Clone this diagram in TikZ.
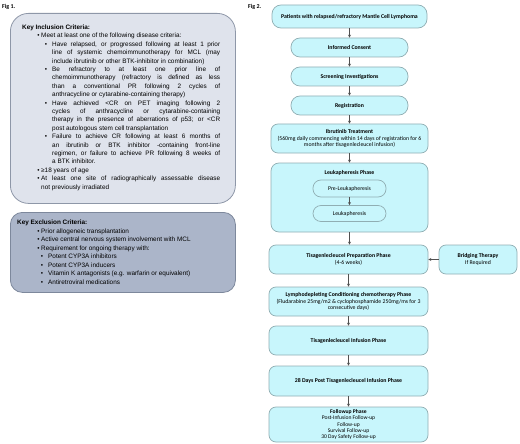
\documentclass[tikz,border=0pt]{standalone}
\usepackage{fontspec}
\setmainfont{Liberation Sans}
\newfontfamily\calfont{Carlito}
\usetikzlibrary{arrows.meta}
\definecolor{incfill}{HTML}{DFE3EC}
\definecolor{incdraw}{HTML}{8E97A8}
\definecolor{excfill}{HTML}{ABB5C9}
\definecolor{excdraw}{HTML}{7D889C}
\definecolor{boxfill}{HTML}{C8F6FC}
\definecolor{boxdraw}{HTML}{90AEB3}
\definecolor{arr}{HTML}{505050}
\tolerance=9999
\emergencystretch=5pt
\begin{document}
\begin{tikzpicture}[x=1pt,y=-1pt,
  fbox/.style={draw=boxdraw, fill=boxfill, line width=0.7pt, rounded corners=7pt, inner sep=0pt, align=center, font=\calfont\fontsize{5.8}{6.9}\selectfont},
  pill/.style={fbox, rounded corners=8pt},
  conn/.style={draw=arr, line width=0.6pt, -{Stealth[length=3pt,width=3pt]}},
  figlab/.style={anchor=base west, inner sep=0pt, font=\calfont\bfseries\fontsize{6}{6}\selectfont},
  crit/.style={anchor=base west, inner sep=0pt, align=justify}
]
\useasboundingbox (0,0) rectangle (520,444);

% ---------- Fig 1 ----------
\node[figlab] (fig1) at (2,8.5) {Fig 1.};
\node[figlab] (fig2) at (248,8.5) {Fig 2.};

\node[draw=incdraw, fill=incfill, line width=0.8pt, rounded corners=18pt, anchor=north west,
      minimum width=225pt, minimum height=190pt, inner sep=0pt] (inc) at (10,13) {};
\node[crit, text width=198pt, font=\fontsize{6.4}{8.4}\selectfont] (inctext) at (22,29.5) {%
\textbf{Key Inclusion Criteria:}\par
{\leftskip=19pt \noindent\llap{\textbullet\hspace{1.5pt}}Meet at least one of the following disease criteria:\par}
{\leftskip=30pt
\noindent\llap{\textbullet\hspace{5pt}}Have relapsed, or progressed following at least 1 prior\linebreak line of systemic chemoimmunotherapy for MCL (may\linebreak include ibrutinib or other BTK-inhibitor in combination)\par
\noindent\llap{\textbullet\hspace{5pt}}Be refractory to at least one prior line of\linebreak chemoimmunotherapy (refractory is defined as less\linebreak than a conventional PR following 2 cycles of\linebreak anthracycline or cytarabine-containing therapy)\par
\noindent\llap{\textbullet\hspace{5pt}}Have achieved <CR on PET imaging following 2\linebreak cycles of anthracycline or cytarabine-containing\linebreak therapy in the presence of aberrations of p53; or <CR\linebreak post autologous stem cell transplantation\par
\noindent\llap{\textbullet\hspace{5pt}}Failure to achieve CR following at least 6 months of\linebreak an ibrutinib or BTK inhibitor -containing front-line\linebreak regimen, or  failure to achieve PR following 8 weeks of\linebreak a BTK inhibitor.\par}
{\leftskip=19pt
\noindent\llap{\textbullet\hspace{1.5pt}}≥18 years of age\par
\noindent\llap{\textbullet\hspace{1.5pt}}At least one site of radiographically assessable disease\linebreak not previously irradiated\par}
};

\node[draw=excdraw, fill=excfill, line width=0.8pt, rounded corners=12pt, anchor=north west,
      minimum width=225pt, minimum height=80pt, inner sep=0pt] (exc) at (10,212) {};
\node[crit, text width=210pt, font=\fontsize{6.4}{8.5}\selectfont] (exctext) at (17,224.5) {%
\textbf{Key Exclusion Criteria:}\par
{\leftskip=24pt
\noindent\llap{\textbullet\hspace{1.5pt}}Prior allogeneic transplantation\par
\noindent\llap{\textbullet\hspace{1.5pt}}Active central nervous system involvement with MCL\par
\noindent\llap{\textbullet\hspace{1.5pt}}Requirement for ongoing therapy with:\par}
{\leftskip=31pt
\noindent\llap{\textbullet\hspace{5pt}}Potent CYP3A inhibitors\par
\noindent\llap{\textbullet\hspace{5pt}}Potent CYP3A inducers\par
\noindent\llap{\textbullet\hspace{5pt}}Vitamin K antagonists (e.g. warfarin or equivalent)\par
\noindent\llap{\textbullet\hspace{5pt}}Antiretroviral medications\par}
};

% ---------- Fig 2 ----------
\node[fbox, rounded corners=9pt, minimum width=155pt, minimum height=23pt] (p1) at (349.5,16.5) {\textbf{Patients with relapsed/refractory Mantle Cell Lymphoma}};
\node[fbox, rounded corners=9pt, minimum width=117pt, minimum height=19pt] (ic) at (349.5,47.5) {\textbf{Informed Consent}};
\node[fbox, rounded corners=9pt, minimum width=117pt, minimum height=19pt] (si) at (349.5,76.5) {\textbf{Screening Investigations}};
\node[fbox, rounded corners=9pt, minimum width=117pt, minimum height=19pt] (reg) at (349.5,105.5) {\textbf{Registration}};
\node[fbox, minimum width=157pt, minimum height=29pt] (ibr) at (349.5,138.5) {\textbf{Ibrutinib Treatment}\\(560mg daily commencing within 14 days of registration for 6\\months after tisagenlecleucel infusion)};
\node[fbox, rounded corners=8pt, minimum width=157pt, minimum height=69pt] (lbox) at (349.5,197.5) {};
\node[inner sep=0pt, font=\calfont\bfseries\fontsize{5.8}{6.9}\selectfont] (ltitle) at (349.5,173) {Leukapheresis Phase};
\node[pill, minimum width=73pt, minimum height=17pt] (pre) at (349.5,188.5) {Pre-Leukapheresis};
\node[pill, minimum width=73pt, minimum height=16pt] (lk) at (349.5,213.5) {Leukapheresis};
\node[fbox, minimum width=159pt, minimum height=29pt] (tpp) at (348.5,259.5) {\textbf{Tisagenlecleucel Preparation Phase}\\(4-6 weeks)};
\node[fbox, minimum width=78pt, minimum height=29pt] (bridge) at (478,259.5) {\textbf{Bridging Therapy}\\If Required};
\node[fbox, minimum width=159pt, minimum height=29pt] (lymph) at (348.5,301.5) {\textbf{Lymphodepleting Conditioning chemotherapy Phase}\\(Fludarabine 25mg/m2 \& cyclophosphamide 250mg/ms for 3\\consecutive days)};
\node[fbox, minimum width=159pt, minimum height=29pt] (tip) at (348.5,340.5) {\textbf{Tisagenlecleucel Infusion Phase}};
\node[fbox, minimum width=159pt, minimum height=30pt] (d28) at (348.5,381) {\textbf{28 Days Post Tisagenlecleucel Infusion Phase}};
\node[fbox, minimum width=159pt, minimum height=35pt, font=\calfont\fontsize{5.6}{6.3}\selectfont] (fu) at (348.5,424.5) {\textbf{Followup Phase}\\Post-Infusion Follow-up\\Follow-up\\Survival Follow-up\\30 Day Safety Follow-up};

\draw[conn] (p1.south) -- (ic.north);
\draw[conn] (ic.south) -- (si.north);
\draw[conn] (si.south) -- (reg.north);
\draw[conn] (reg.south) -- (ibr.north);
\draw[conn] (ibr.south) -- (lbox.north);
\draw[conn] (pre.south) -- (lk.north);
\draw[conn] (lbox.south) -- (lbox.south |- tpp.north);
\draw[conn] (bridge.west) -- (tpp.east);
\draw[conn] (tpp.south -| lymph.north) -- (lymph.north);
\draw[conn] (lymph.south) -- (tip.north);
\draw[conn] (tip.south) -- (d28.north);
\draw[conn] (d28.south) -- (fu.north);
\end{tikzpicture}
\end{document}
